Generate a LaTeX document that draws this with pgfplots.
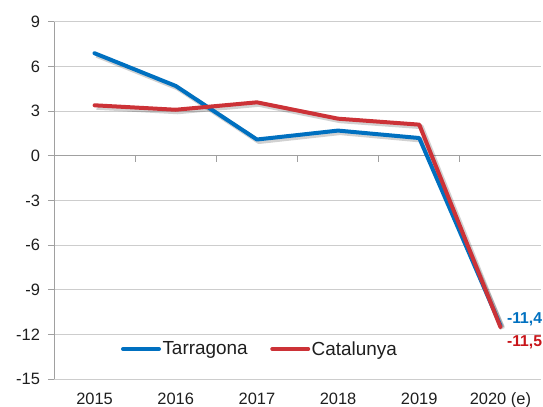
\documentclass[border=0pt]{standalone}
\usepackage{pgfplots}
\pgfplotsset{compat=1.18}
\usepackage{fontspec}
\setmainfont{Liberation Sans}
\definecolor{tblue}{RGB}{0,112,192}
\definecolor{cred}{RGB}{204,50,55}
\definecolor{lred}{RGB}{200,20,25}
\definecolor{gridc}{RGB}{205,205,205}
\definecolor{axc}{RGB}{160,160,160}
\definecolor{txt}{RGB}{30,30,30}
\begin{document}
\begin{tikzpicture}
\begin{axis}[
  at={(0,0)}, anchor=south west,
  scale only axis,
  width=487bp, height=357bp,
  xmin=-0.5, xmax=5.5,
  ymin=-15, ymax=9,
  xtick={0,1,2,3,4,5},
  xticklabels={2015,2016,2017,2018,2019,2020 (e)},
  ytick={-15,-12,-9,-6,-3,0,3,6,9},
  yticklabels={-15,-12,-9,-6,-3,0,3,6,9},
  ymajorgrids,
  grid style={gridc, line width=1pt},
  axis line style={axc, line width=1pt},
  axis x line*=bottom,
  axis y line*=left,
  x axis line style={draw=none},
  xtick style={draw=none},
  ytick style={axc, line width=1pt},
  tick align=outside,
  major tick length=6bp,
  tick label style={font=\fontsize{16.5}{18}\selectfont, text=txt},
  xticklabel style={yshift=-4.5bp},
  yticklabel style={xshift=-4.5bp},
  clip=false,
  legend style={at={(0.1376,0.084)}, anchor=west, draw=none, fill=none,
    font=\fontsize{19}{21}\selectfont, text=txt, legend columns=2,
    inner sep=0pt, outer sep=0pt,
    nodes={inner sep=1.5bp},
    /tikz/every even column/.append style={column sep=21bp}},
  legend image code/.code={\draw[#1, line width=4bp, line cap=round] (0bp,0bp) -- (36bp,0bp);},
]
% zero line
\draw[axc, line width=1pt] (axis cs:-0.5,0) -- (axis cs:5.5,0);
\draw[axc, line width=1pt] (axis cs:0.5,0) -- (axis cs:0.5,-0.4);
\draw[axc, line width=1pt] (axis cs:1.5,0) -- (axis cs:1.5,-0.4);
\draw[axc, line width=1pt] (axis cs:2.5,0) -- (axis cs:2.5,-0.4);
\draw[axc, line width=1pt] (axis cs:3.5,0) -- (axis cs:3.5,-0.4);
\draw[axc, line width=1pt] (axis cs:4.5,0) -- (axis cs:4.5,-0.4);
% shadows
\addplot[black, opacity=0.18, line width=5bp, line join=round, xshift=2bp, yshift=-2bp, forget plot]
  coordinates {(0,6.9) (1,4.7) (2,1.1) (3,1.7) (4,1.2) (5,-11.4)};
\addplot[black, opacity=0.18, line width=5bp, line join=round, xshift=2bp, yshift=-2bp, forget plot]
  coordinates {(0,3.4) (1,3.1) (2,3.6) (3,2.5) (4,2.1) (5,-11.5)};
\addplot[tblue, line width=4bp, line join=round, line cap=round]
  coordinates {(0,6.9) (1,4.7) (2,1.1) (3,1.7) (4,1.2) (5,-11.4)};
\addlegendentry{Tarragona}
\addplot[cred, line width=4bp, line join=round, line cap=round]
  coordinates {(0,3.4) (1,3.1) (2,3.6) (3,2.5) (4,2.1) (5,-11.5)};
\addlegendentry{Catalunya}
\node[anchor=west, text=tblue, font=\bfseries\fontsize{15.8}{17}\selectfont, inner sep=0pt] at (axis cs:5.08,-10.96) {-11,4};
\node[anchor=west, text=lred, font=\bfseries\fontsize{15.8}{17}\selectfont, inner sep=0pt] at (axis cs:5.08,-12.5) {-11,5};
\end{axis}
\pgfresetboundingbox
\path[use as bounding box] (-54bp,-28bp) rectangle (489bp,379bp);
\end{tikzpicture}
\end{document}
